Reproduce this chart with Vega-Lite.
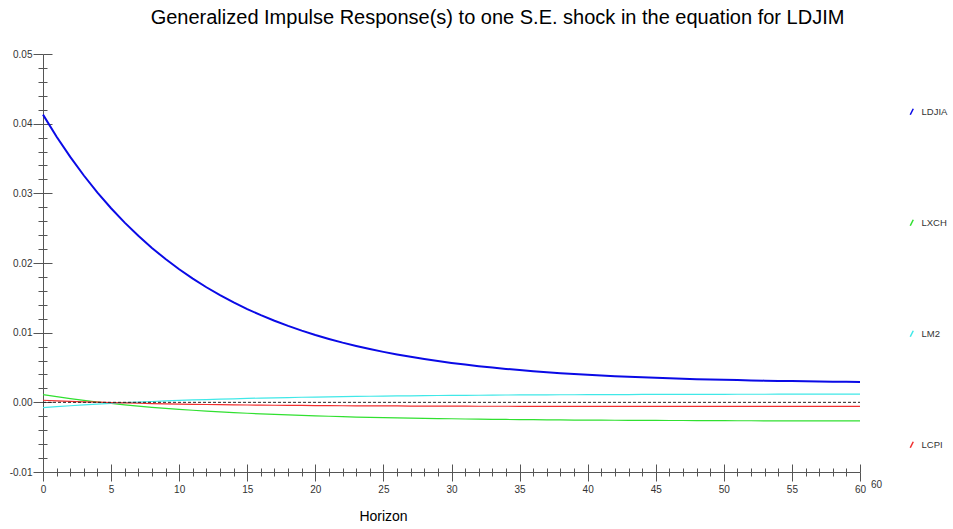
{
  "$schema": "https://vega.github.io/schema/vega-lite/v6.json",
  "autosize": "none",
  "width": 817,
  "height": 418,
  "padding": {"left": 43, "top": 54, "right": 93, "bottom": 57},
  "background": "white",
  "config": {"view": {"stroke": null}, "font": "Liberation Sans"},
  "title": {"text": "Generalized Impulse Response(s) to one S.E. shock in the equation for LDJIM", "fontSize": 20, "fontWeight": "normal", "font": "Liberation Sans", "color": "#000000", "anchor": "middle", "dx": 46, "offset": 5, "baseline": "alphabetic"},
  "resolve": {"axis": {"x": "independent", "y": "independent"}},
  "layer": [
    {
      "data": {"values": [
        {"h":0,"LDJIA":0.0413,"LXCH":0.0011,"LM2":-0.00076,"LCPI":0.0003},
        {"h":1,"LDJIA":0.03813,"LXCH":0.00081,"LM2":-0.00062,"LCPI":0.00022},
        {"h":2,"LDJIA":0.03523,"LXCH":0.00053,"LM2":-0.00049,"LCPI":0.00015},
        {"h":3,"LDJIA":0.03256,"LXCH":0.00028,"LM2":-0.00037,"LCPI":0.00008},
        {"h":4,"LDJIA":0.03011,"LXCH":0.00005,"LM2":-0.00025,"LCPI":0.00002},
        {"h":5,"LDJIA":0.02786,"LXCH":-0.00016,"LM2":-0.00015,"LCPI":-0.00004},
        {"h":6,"LDJIA":0.0258,"LXCH":-0.00036,"LM2":-0.00005,"LCPI":-0.00009},
        {"h":7,"LDJIA":0.0239,"LXCH":-0.00054,"LM2":0.00004,"LCPI":-0.00013},
        {"h":8,"LDJIA":0.02216,"LXCH":-0.00071,"LM2":0.00012,"LCPI":-0.00018},
        {"h":9,"LDJIA":0.02057,"LXCH":-0.00086,"LM2":0.0002,"LCPI":-0.00021},
        {"h":10,"LDJIA":0.0191,"LXCH":-0.00101,"LM2":0.00027,"LCPI":-0.00025},
        {"h":11,"LDJIA":0.01775,"LXCH":-0.00114,"LM2":0.00034,"LCPI":-0.00028},
        {"h":12,"LDJIA":0.01652,"LXCH":-0.00126,"LM2":0.0004,"LCPI":-0.00031},
        {"h":13,"LDJIA":0.01539,"LXCH":-0.00137,"LM2":0.00046,"LCPI":-0.00034},
        {"h":14,"LDJIA":0.01434,"LXCH":-0.00147,"LM2":0.00051,"LCPI":-0.00036},
        {"h":15,"LDJIA":0.01339,"LXCH":-0.00157,"LM2":0.00056,"LCPI":-0.00038},
        {"h":16,"LDJIA":0.01251,"LXCH":-0.00166,"LM2":0.00061,"LCPI":-0.0004},
        {"h":17,"LDJIA":0.01171,"LXCH":-0.00174,"LM2":0.00065,"LCPI":-0.00042},
        {"h":18,"LDJIA":0.01097,"LXCH":-0.00181,"LM2":0.00069,"LCPI":-0.00044},
        {"h":19,"LDJIA":0.01029,"LXCH":-0.00188,"LM2":0.00073,"LCPI":-0.00045},
        {"h":20,"LDJIA":0.00967,"LXCH":-0.00194,"LM2":0.00076,"LCPI":-0.00046},
        {"h":21,"LDJIA":0.0091,"LXCH":-0.002,"LM2":0.00079,"LCPI":-0.00048},
        {"h":22,"LDJIA":0.00857,"LXCH":-0.00206,"LM2":0.00082,"LCPI":-0.00049},
        {"h":23,"LDJIA":0.00809,"LXCH":-0.00211,"LM2":0.00085,"LCPI":-0.0005},
        {"h":24,"LDJIA":0.00765,"LXCH":-0.00215,"LM2":0.00087,"LCPI":-0.00051},
        {"h":25,"LDJIA":0.00724,"LXCH":-0.0022,"LM2":0.0009,"LCPI":-0.00052},
        {"h":26,"LDJIA":0.00687,"LXCH":-0.00224,"LM2":0.00092,"LCPI":-0.00052},
        {"h":27,"LDJIA":0.00653,"LXCH":-0.00227,"LM2":0.00094,"LCPI":-0.00053},
        {"h":28,"LDJIA":0.00621,"LXCH":-0.0023,"LM2":0.00096,"LCPI":-0.00054},
        {"h":29,"LDJIA":0.00593,"LXCH":-0.00234,"LM2":0.00098,"LCPI":-0.00054},
        {"h":30,"LDJIA":0.00566,"LXCH":-0.00236,"LM2":0.00099,"LCPI":-0.00055},
        {"h":31,"LDJIA":0.00542,"LXCH":-0.00239,"LM2":0.00101,"LCPI":-0.00055},
        {"h":32,"LDJIA":0.00519,"LXCH":-0.00241,"LM2":0.00102,"LCPI":-0.00056},
        {"h":33,"LDJIA":0.00499,"LXCH":-0.00244,"LM2":0.00103,"LCPI":-0.00056},
        {"h":34,"LDJIA":0.0048,"LXCH":-0.00246,"LM2":0.00105,"LCPI":-0.00056},
        {"h":35,"LDJIA":0.00463,"LXCH":-0.00248,"LM2":0.00106,"LCPI":-0.00057},
        {"h":36,"LDJIA":0.00447,"LXCH":-0.00249,"LM2":0.00107,"LCPI":-0.00057},
        {"h":37,"LDJIA":0.00433,"LXCH":-0.00251,"LM2":0.00108,"LCPI":-0.00057},
        {"h":38,"LDJIA":0.00419,"LXCH":-0.00252,"LM2":0.00109,"LCPI":-0.00058},
        {"h":39,"LDJIA":0.00407,"LXCH":-0.00254,"LM2":0.00109,"LCPI":-0.00058},
        {"h":40,"LDJIA":0.00396,"LXCH":-0.00255,"LM2":0.0011,"LCPI":-0.00058},
        {"h":41,"LDJIA":0.00385,"LXCH":-0.00256,"LM2":0.00111,"LCPI":-0.00058},
        {"h":42,"LDJIA":0.00376,"LXCH":-0.00257,"LM2":0.00112,"LCPI":-0.00058},
        {"h":43,"LDJIA":0.00367,"LXCH":-0.00258,"LM2":0.00112,"LCPI":-0.00058},
        {"h":44,"LDJIA":0.00359,"LXCH":-0.00259,"LM2":0.00113,"LCPI":-0.00059},
        {"h":45,"LDJIA":0.00352,"LXCH":-0.0026,"LM2":0.00113,"LCPI":-0.00059},
        {"h":46,"LDJIA":0.00345,"LXCH":-0.00261,"LM2":0.00114,"LCPI":-0.00059},
        {"h":47,"LDJIA":0.00339,"LXCH":-0.00261,"LM2":0.00114,"LCPI":-0.00059},
        {"h":48,"LDJIA":0.00333,"LXCH":-0.00262,"LM2":0.00115,"LCPI":-0.00059},
        {"h":49,"LDJIA":0.00328,"LXCH":-0.00263,"LM2":0.00115,"LCPI":-0.00059},
        {"h":50,"LDJIA":0.00323,"LXCH":-0.00263,"LM2":0.00115,"LCPI":-0.00059},
        {"h":51,"LDJIA":0.00319,"LXCH":-0.00264,"LM2":0.00116,"LCPI":-0.00059},
        {"h":52,"LDJIA":0.00315,"LXCH":-0.00264,"LM2":0.00116,"LCPI":-0.00059},
        {"h":53,"LDJIA":0.00311,"LXCH":-0.00265,"LM2":0.00116,"LCPI":-0.00059},
        {"h":54,"LDJIA":0.00308,"LXCH":-0.00265,"LM2":0.00117,"LCPI":-0.00059},
        {"h":55,"LDJIA":0.00305,"LXCH":-0.00266,"LM2":0.00117,"LCPI":-0.00059},
        {"h":56,"LDJIA":0.00302,"LXCH":-0.00266,"LM2":0.00117,"LCPI":-0.00059},
        {"h":57,"LDJIA":0.00299,"LXCH":-0.00266,"LM2":0.00117,"LCPI":-0.00059},
        {"h":58,"LDJIA":0.00297,"LXCH":-0.00266,"LM2":0.00117,"LCPI":-0.00059},
        {"h":59,"LDJIA":0.00295,"LXCH":-0.00267,"LM2":0.00118,"LCPI":-0.00059},
        {"h":60,"LDJIA":0.00293,"LXCH":-0.00267,"LM2":0.00118,"LCPI":-0.00059}
      ]},
      "transform": [{"fold": ["LDJIA", "LXCH", "LM2", "LCPI"], "as": ["series", "value"]}],
      "mark": {"type": "line", "interpolate": "linear"},
      "encoding": {
        "x": {"field": "h", "type": "quantitative",
          "scale": {"domain": [0, 60], "nice": false, "zero": false},
          "axis": {"orient": "bottom", "grid": false,
            "values": [0,1,2,3,4,5,6,7,8,9,10,11,12,13,14,15,16,17,18,19,20,21,22,23,24,25,26,27,28,29,30,31,32,33,34,35,36,37,38,39,40,41,42,43,44,45,46,47,48,49,50,51,52,53,54,55,56,57,58,59,60],
            "labelExpr": "datum.value % 5 === 0 ? datum.label : ''",
            "labelFontSize": 10, "labelColor": "#333333", "labelPadding": 3, "labelFlush": false, "labelOverlap": false,
            "tickSize": {"condition": {"test": "datum.value % 5 === 0", "value": 9}, "value": 4},
            "tickColor": "#555555", "domainColor": "#555555", "tickWidth": 1, "domainWidth": 1,
            "title": "Horizon", "titleFontSize": 14, "titleFontWeight": "normal", "titleColor": "#000000",
            "titleX": 340, "titleY": 44, "titleAlign": "center", "titleBaseline": "middle", "titleAnchor": null}},
        "y": {"field": "value", "type": "quantitative",
          "scale": {"domain": [-0.01, 0.05], "nice": false, "zero": false},
          "axis": {"orient": "left", "grid": false,
            "values": [-0.01,-0.008,-0.006,-0.004,-0.002,0,0.002,0.004,0.006,0.008,0.01,0.012,0.014,0.016,0.018,0.02,0.022,0.024,0.026,0.028,0.03,0.032,0.034,0.036,0.038,0.04,0.042,0.044,0.046,0.048,0.05],
            "labelExpr": "abs(datum.value*100 - round(datum.value*100)) < 0.001 ? replace(format(datum.value, '.2f'), '\u2212', '-') : ''",
            "labelFontSize": 10, "labelColor": "#333333", "labelPadding": 1, "labelFlush": false, "labelOverlap": false,
            "tickSize": {"condition": {"test": "abs(datum.value*100 - round(datum.value*100)) < 0.001", "value": 10}, "value": 5},
            "tickColor": "#555555", "domainColor": "#555555", "tickWidth": 1, "domainWidth": 1,
            "title": null}},
        "color": {"field": "series", "type": "nominal",
          "scale": {"domain": ["LDJIA", "LXCH", "LM2", "LCPI"], "range": ["#0a0ae6", "#30e030", "#40e8e8", "#f03030"]},
          "legend": {"orient": "none", "legendX": 864, "legendY": 53, "title": null, "labelFontSize": 9.5, "labelColor": "#333333",
            "symbolType": "M-0.5,1L0.5,-1", "symbolSize": 36, "symbolStrokeWidth": 1.5, "rowPadding": 98, "labelOffset": 5, "padding": 0}},
        "strokeWidth": {"condition": {"test": "datum.series === 'LDJIA'", "value": 2}, "value": 1.2}
      }
    },
    {
      "data": {"values": [{}]},
      "mark": {"type": "rule", "color": "#222222", "strokeWidth": 1, "strokeDash": [3, 2]},
      "encoding": {
        "x": {"datum": 0, "type": "quantitative", "scale": {"domain": [0, 60], "nice": false, "zero": false},
          "axis": {"orient": "bottom", "grid": false, "domain": false, "labels": false,
            "values": [0,1,2,3,4,5,6,7,8,9,10,11,12,13,14,15,16,17,18,19,20,21,22,23,24,25,26,27,28,29,30,31,32,33,34,35,36,37,38,39,40,41,42,43,44,45,46,47,48,49,50,51,52,53,54,55,56,57,58,59,60],
            "tickSize": {"condition": {"test": "datum.value % 5 === 0", "value": -8}, "value": -4},
            "tickColor": "#555555", "tickWidth": 1,
            "title": "60", "titleFontSize": 10, "titleFontWeight": "normal", "titleColor": "#333333",
            "titleX": 833, "titleY": 12, "titleAlign": "center", "titleBaseline": "middle", "titleAnchor": null}},
        "x2": {"datum": 60},
        "y": {"datum": 0, "type": "quantitative", "scale": {"domain": [-0.01, 0.05], "nice": false, "zero": false},
          "axis": {"orient": "left", "grid": false, "domain": false, "labels": false,
            "values": [-0.01,-0.008,-0.006,-0.004,-0.002,0,0.002,0.004,0.006,0.008,0.01,0.012,0.014,0.016,0.018,0.02,0.022,0.024,0.026,0.028,0.03,0.032,0.034,0.036,0.038,0.04,0.042,0.044,0.046,0.048,0.05],
            "tickSize": {"condition": {"test": "abs(datum.value*100 - round(datum.value*100)) < 0.001", "value": -9}, "value": -4},
            "tickColor": "#555555", "tickWidth": 1,
            "title": null}}
      }
    }
  ]
}
